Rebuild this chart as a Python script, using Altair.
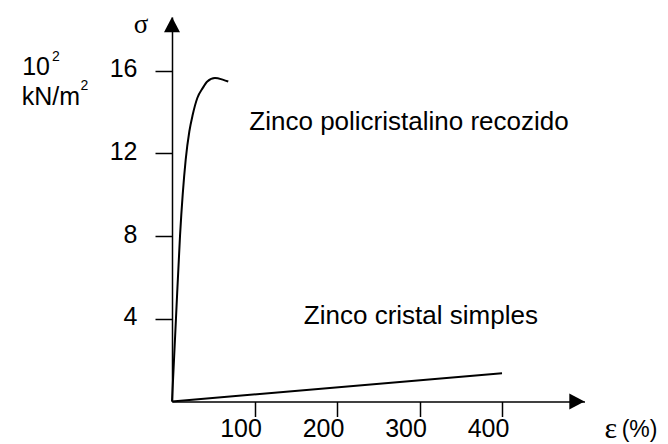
import altair as alt
import pandas as pd

# ---- data ----
strain_poly = [0, 4.8, 9.7, 16.6, 21.0, 25.1, 30.7, 37.2, 42.8, 52.1, 62.2, 68.2]
stress_poly = [0, 4.0, 8.0, 11.7, 13.06, 13.87, 14.68, 15.16, 15.48, 15.65, 15.56, 15.48]
strain_single = [0, 400]
stress_single = [0, 1.37]
series_names = ["Zinco policristalino recozido", "Zinco cristal simples"]
x_ticks = [100, 200, 300, 400]
y_ticks = [4, 8, 12, 16]

X_MAX = 500
Y_MAX = 18.6

curves = pd.DataFrame({
    "strain": strain_poly + strain_single,
    "stress": stress_poly + stress_single,
    "series": [series_names[0]] * len(strain_poly) + [series_names[1]] * len(strain_single),
})

xs = alt.Scale(domain=[0, X_MAX], nice=False, zero=False)
ys = alt.Scale(domain=[0, Y_MAX], nice=False, zero=False)

x_axis = alt.Axis(values=x_ticks, title=None, grid=False, domainColor="black", domainWidth=1.5,
                  tickColor="black", tickWidth=1.5, tickSize=15, labelFontSize=25,
                  labelFont="Liberation Sans", labelColor="black", labelPadding=0,
                  labelOffset=-14, labelAlign="center", labelBaseline="top",
                  labelFlush=False, labelOverlap=False, labelBound=False)
y_axis = alt.Axis(values=y_ticks, title=None, grid=False, domainColor="black", domainWidth=1.5,
                  tickColor="black", tickWidth=1.5, tickSize=17, labelFontSize=25,
                  labelFont="Liberation Sans", labelColor="black", labelPadding=18,
                  labelOffset=-2, labelBaseline="middle", labelFlush=False,
                  labelOverlap=False, labelBound=False)

lines = alt.Chart(curves).mark_line(color="black", strokeWidth=2, interpolate="monotone").encode(
    x=alt.X("strain:Q", scale=xs, axis=x_axis),
    y=alt.Y("stress:Q", scale=ys, axis=y_axis),
    detail="series:N",
)

# arrow heads at axis ends
arrows = pd.DataFrame({
    "x": [0, X_MAX],
    "y": [Y_MAX, 0],
    "shape": ["M0,0L-1,1.9L1,1.9Z", "M0,0L-1.9,-1L-1.9,1Z"],
})
arrow_layer = alt.Chart(arrows).mark_point(filled=True, color="black", opacity=1, size=256).encode(
    x=alt.X("x:Q", scale=xs),
    y=alt.Y("y:Q", scale=ys),
    shape=alt.Shape("shape:N", scale=None),
)

def text_layer(df, **kw):
    return alt.Chart(df).mark_text(color="black", **kw).encode(
        x=alt.X("x:Q", scale=xs),
        y=alt.Y("y:Q", scale=ys),
        text="text:N",
    )

series_labels = pd.DataFrame({"x": [287.3, 301.7], "y": [13.14, 3.74], "text": series_names})
unit_main = pd.DataFrame({"x": [-147.9, -111.5], "y": [15.81, 14.35], "text": ["10", "kN/m"]})
unit_sup = pd.DataFrame({"x": [-145.5, -110.9], "y": [16.45, 15.05], "text": ["2", "2"]})
sigma = pd.DataFrame({"x": [-37.6], "y": [17.84], "text": ["σ"]})
eps = pd.DataFrame({"x": [532], "y": [-1.76], "text": ["ε"]})
pct = pd.DataFrame({"x": [545], "y": [-1.72], "text": ["(%)"]})

layers = [
    lines,
    arrow_layer,
    text_layer(series_labels, font="Liberation Sans", fontSize=26, align="center", baseline="alphabetic"),
    text_layer(unit_main, font="Liberation Sans", fontSize=25, align="right", baseline="alphabetic"),
    text_layer(unit_sup, font="Liberation Sans", fontSize=14, align="left", baseline="alphabetic"),
    text_layer(sigma, font="Liberation Serif", fontSize=27, align="center", baseline="alphabetic"),
    text_layer(eps, font="Liberation Serif", fontSize=30, align="center", baseline="alphabetic"),
    text_layer(pct, font="Liberation Sans", fontSize=23, align="left", baseline="alphabetic"),
]

chart = alt.layer(*layers).properties(
    width=412.5,
    height=384.5,
    autosize=alt.AutoSizeParams(type="none"),
    padding={"left": 164, "top": 9, "right": 75.5, "bottom": 42.5},
    background="white",
).configure_view(stroke=None)

chart.save("out.html", embed_options={"renderer": "svg", "actions": False})
